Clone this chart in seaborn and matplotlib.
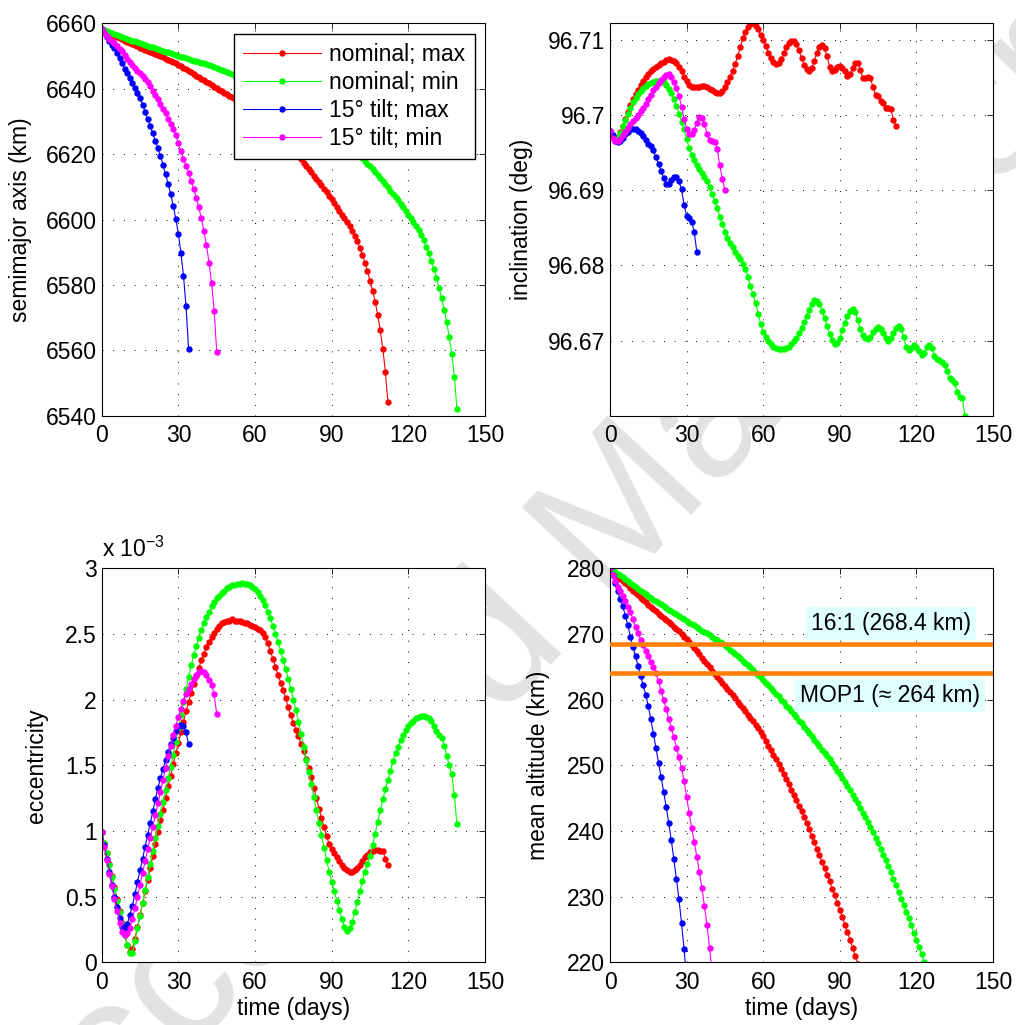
import numpy as np
import pandas as pd
import matplotlib
matplotlib.use("Agg")
import matplotlib.pyplot as plt
from matplotlib.ticker import FormatStrFormatter
import seaborn as sns

sns.set_theme(style="white", rc={
    "axes.edgecolor": "black",
    "axes.linewidth": 0.8,
    "xtick.color": "black",
    "ytick.color": "black",
    "text.color": "black",
    "axes.labelcolor": "black",
})
plt.rcParams["font.family"] = ["Liberation Sans", "DejaVu Sans"]
plt.rcParams["mathtext.fontset"] = "custom"
plt.rcParams["mathtext.rm"] = "Liberation Sans"
plt.rcParams["mathtext.it"] = "Liberation Sans:italic"

FS = 16.5
EARTH_RADIUS_KM = 6378.137

series_labels = ["nominal; max", "nominal; min", "15\u00b0 tilt; max", "15\u00b0 tilt; min"]
series_colors = ["#ff0000", "#00ff00", "#0000ff", "#ff00ff"]

# ---- mean altitude (km), one sample per day ----
alt_nominal_max = [
    280.0, 279.6, 279.2, 278.8, 278.4, 278.1, 277.7, 277.4, 277.0, 276.6,
    276.3, 275.9, 275.5, 275.1, 274.8, 274.4, 274.1, 273.8, 273.5, 273.1,
    272.8, 272.5, 272.1, 271.8, 271.5, 271.1, 270.8, 270.4, 270.0, 269.6,
    269.2, 268.8, 268.3, 267.8, 267.4, 266.9, 266.4, 265.9, 265.4, 264.9,
    264.4, 263.9, 263.5, 263.0, 262.5, 262.1, 261.6, 261.1, 260.7, 260.2,
    259.7, 259.2, 258.7, 258.2, 257.7, 257.2, 256.7, 256.2, 255.6, 255.0,
    254.4, 253.7, 253.0, 252.3, 251.6, 250.9, 250.2, 249.4, 248.7, 247.9,
    247.1, 246.3, 245.5, 244.7, 243.8, 243.0, 242.1, 241.2, 240.3, 239.3,
    238.3, 237.3, 236.3, 235.3, 234.3, 233.3, 232.3, 231.2, 230.2, 229.1,
    228.0, 226.9, 225.7, 224.6, 223.4, 222.2, 221.0, 219.8, 218.4, 216.9,
    215.2, 213.3, 211.1, 208.7, 206.0, 203.2, 200.1, 196.8, 192.7, 188.0,
    182.4, 175.3, 166.0,
]
alt_nominal_min = [
    280.0, 279.7, 279.4, 279.2, 278.9, 278.6, 278.3, 278.0, 277.8, 277.5,
    277.2, 276.9, 276.6, 276.4, 276.1, 275.8, 275.5, 275.2, 275.0, 274.7,
    274.5, 274.2, 274.0, 273.7, 273.5, 273.2, 273.0, 272.7, 272.5, 272.2,
    272.0, 271.7, 271.5, 271.3, 271.0, 270.8, 270.5, 270.3, 270.1, 269.8,
    269.6, 269.3, 269.1, 268.8, 268.6, 268.3, 268.0, 267.6, 267.3, 267.0,
    266.6, 266.3, 265.9, 265.6, 265.2, 264.9, 264.5, 264.1, 263.8, 263.4,
    263.0, 262.6, 262.2, 261.7, 261.3, 260.9, 260.5, 260.0, 259.6, 259.1,
    258.7, 258.2, 257.8, 257.3, 256.8, 256.4, 255.9, 255.4, 254.9, 254.4,
    253.9, 253.4, 252.9, 252.4, 251.9, 251.4, 250.9, 250.4, 249.8, 249.2,
    248.6, 248.0, 247.4, 246.8, 246.2, 245.5, 244.9, 244.2, 243.5, 242.8,
    242.1, 241.4, 240.6, 239.8, 239.0, 238.2, 237.3, 236.4, 235.5, 234.6,
    233.7, 232.7, 231.7, 230.7, 229.7, 228.7, 227.7, 226.7, 225.6, 224.5,
    223.4, 222.3, 221.2, 220.0, 218.7, 217.2, 215.5, 213.6, 211.5, 209.2,
    206.7, 204.0, 201.0, 197.8, 194.3, 190.4, 185.9, 180.6, 173.8, 164.0,
]
alt_tilt_max = [
    280.0, 278.9, 277.7, 276.5, 275.3, 274.2, 272.8, 271.3, 269.6, 268.0,
    266.6, 265.1, 263.6, 262.2, 260.7, 259.0, 257.0, 254.8, 252.6, 250.4,
    248.2, 246.0, 243.7, 241.2, 238.6, 235.7, 232.7, 229.6, 226.0, 222.0,
    217.5, 211.6, 204.7, 195.3, 182.2,
]
alt_tilt_min = [
    280.0, 279.0, 278.1, 277.2, 276.5, 275.8, 275.0, 274.1, 273.3, 272.2,
    271.1, 270.1, 269.1, 268.3, 267.4, 266.6, 265.8, 264.9, 264.0, 262.8,
    261.3, 259.9, 258.6, 257.1, 255.7, 254.3, 252.7, 251.2, 249.6, 247.6,
    245.2, 242.7, 240.4, 238.3, 236.1, 233.7, 231.3, 228.5, 225.6, 222.2,
    218.4, 214.0, 208.7, 202.4, 194.0, 181.4,
]

# ---- inclination (deg) ----
inc_nominal_max = [
    96.6979, 96.6972, 96.6969, 96.6970, 96.6977, 96.6986, 96.6995, 96.7004, 96.7013, 96.7021,
    96.7028, 96.7034, 96.7040, 96.7045, 96.7050, 96.7054, 96.7058, 96.7061, 96.7064, 96.7067,
    96.7069, 96.7071, 96.7073, 96.7074, 96.7073, 96.7072, 96.7069, 96.7064, 96.7058, 96.7051,
    96.7045, 96.7040, 96.7038, 96.7037, 96.7037, 96.7038, 96.7039, 96.7039, 96.7037, 96.7035,
    96.7033, 96.7031, 96.7030, 96.7030, 96.7032, 96.7037, 96.7044, 96.7051, 96.7059, 96.7068,
    96.7078, 96.7090, 96.7102, 96.7111, 96.7117, 96.7121, 96.7122, 96.7119, 96.7114, 96.7107,
    96.7100, 96.7092, 96.7083, 96.7076, 96.7070, 96.7068, 96.7069, 96.7074, 96.7082, 96.7090,
    96.7096, 96.7099, 96.7098, 96.7094, 96.7086, 96.7076, 96.7067, 96.7061, 96.7059, 96.7063,
    96.7072, 96.7083, 96.7091, 96.7093, 96.7089, 96.7078, 96.7064, 96.7058, 96.7060, 96.7064,
    96.7065, 96.7063, 96.7058, 96.7052, 96.7055, 96.7062, 96.7069, 96.7069, 96.7060, 96.7049,
    96.7049, 96.7051, 96.7049, 96.7037, 96.7027, 96.7025, 96.7019, 96.7016, 96.7010, 96.7009,
    96.7008, 96.6993, 96.6985,
]
inc_nominal_min = [
    96.6979, 96.6972, 96.6968, 96.6970, 96.6976, 96.6985, 96.6994, 96.7002, 96.7010, 96.7017,
    96.7023, 96.7028, 96.7032, 96.7036, 96.7039, 96.7041, 96.7043, 96.7044, 96.7045, 96.7045,
    96.7046, 96.7044, 96.7040, 96.7035, 96.7029, 96.7021, 96.7012, 96.7002, 96.6991, 96.6981,
    96.6968, 96.6956, 96.6947, 96.6940, 96.6934, 96.6928, 96.6923, 96.6918, 96.6912, 96.6904,
    96.6895, 96.6886, 96.6876, 96.6865, 96.6855, 96.6845, 96.6837, 96.6830, 96.6824, 96.6818,
    96.6813, 96.6808, 96.6802, 96.6795, 96.6785, 96.6772, 96.6762, 96.6750, 96.6736, 96.6722,
    96.6711, 96.6705, 96.6699, 96.6695, 96.6692, 96.6690, 96.6689, 96.6689, 96.6689, 96.6690,
    96.6692, 96.6695, 96.6699, 96.6704, 96.6710, 96.6717, 96.6725, 96.6733, 96.6741, 96.6749,
    96.6754, 96.6753, 96.6748, 96.6740, 96.6730, 96.6719, 96.6709, 96.6701, 96.6696, 96.6697,
    96.6704, 96.6714, 96.6724, 96.6733, 96.6740, 96.6742, 96.6738, 96.6727, 96.6716, 96.6708,
    96.6703, 96.6702, 96.6705, 96.6711, 96.6716, 96.6718, 96.6716, 96.6710, 96.6703, 96.6700,
    96.6703, 96.6710, 96.6717, 96.6720, 96.6716, 96.6705, 96.6692, 96.6687, 96.6690, 96.6694,
    96.6692, 96.6686, 96.6681, 96.6684, 96.6691, 96.6694, 96.6690, 96.6680, 96.6675, 96.6674,
    96.6672, 96.6668, 96.6660, 96.6650, 96.6647, 96.6643, 96.6631, 96.6625, 96.6623, 96.6600,
]
inc_tilt_max = [
    96.6979, 96.6973, 96.6966, 96.6964, 96.6966, 96.6970, 96.6975, 96.6978, 96.6981, 96.6982,
    96.6981, 96.6979, 96.6976, 96.6972, 96.6967, 96.6962, 96.6959, 96.6953, 96.6944, 96.6935,
    96.6926, 96.6916, 96.6908, 96.6908, 96.6913, 96.6917, 96.6917, 96.6912, 96.6901, 96.6881,
    96.6866, 96.6863, 96.6858, 96.6844, 96.6818,
]
inc_tilt_min = [
    96.6979, 96.6970, 96.6966, 96.6965, 96.6968, 96.6973, 96.6978, 96.6983, 96.6988, 96.6992,
    96.6996, 96.7000, 96.7005, 96.7010, 96.7015, 96.7021, 96.7027, 96.7033, 96.7038, 96.7043,
    96.7047, 96.7050, 96.7053, 96.7054, 96.7050, 96.7044, 96.7036, 96.7026, 96.7011, 96.6995,
    96.6982, 96.6975, 96.6975, 96.6980, 96.6990, 96.6997, 96.6996, 96.6988, 96.6975, 96.6967,
    96.6965, 96.6964, 96.6955, 96.6933, 96.6915, 96.6900,
]

# ---- eccentricity (units of 1e-3) ----
ecc_nominal_max = [
    0.99, 0.91, 0.83, 0.75, 0.66, 0.57, 0.48, 0.39, 0.30, 0.21,
    0.13, 0.08, 0.10, 0.18, 0.27, 0.36, 0.45, 0.54, 0.63, 0.72,
    0.81, 0.90, 0.99, 1.08, 1.16, 1.25, 1.34, 1.42, 1.51, 1.59,
    1.67, 1.75, 1.83, 1.91, 1.98, 2.05, 2.12, 2.18, 2.24, 2.30,
    2.35, 2.40, 2.44, 2.48, 2.51, 2.54, 2.56, 2.58, 2.59, 2.60,
    2.60, 2.61, 2.60, 2.60, 2.60, 2.59, 2.58, 2.58, 2.57, 2.56,
    2.55, 2.54, 2.53, 2.51, 2.48, 2.43, 2.37, 2.31, 2.25, 2.19,
    2.13, 2.07, 2.01, 1.94, 1.88, 1.82, 1.77, 1.72, 1.66, 1.61,
    1.55, 1.48, 1.41, 1.33, 1.25, 1.17, 1.10, 1.03, 0.96, 0.90,
    0.86, 0.83, 0.80, 0.77, 0.74, 0.72, 0.70, 0.69, 0.69, 0.70,
    0.72, 0.74, 0.77, 0.80, 0.82, 0.84, 0.85, 0.855, 0.855, 0.85,
    0.85, 0.79, 0.74,
]
ecc_nominal_min = [
    0.99, 0.91, 0.83, 0.74, 0.65, 0.56, 0.47, 0.38, 0.29, 0.21,
    0.13, 0.07, 0.07, 0.16, 0.26, 0.35, 0.45, 0.55, 0.65, 0.75,
    0.85, 0.95, 1.04, 1.13, 1.22, 1.31, 1.40, 1.49, 1.58, 1.68,
    1.78, 1.88, 1.98, 2.08, 2.17, 2.26, 2.34, 2.41, 2.47, 2.53,
    2.58, 2.63, 2.67, 2.71, 2.74, 2.77, 2.79, 2.81, 2.83, 2.85,
    2.86, 2.87, 2.875, 2.88, 2.88, 2.885, 2.88, 2.88, 2.87, 2.86,
    2.84, 2.82, 2.79, 2.76, 2.72, 2.67, 2.62, 2.56, 2.50, 2.44,
    2.37, 2.30, 2.23, 2.16, 2.08, 2.00, 1.92, 1.83, 1.74, 1.64,
    1.54, 1.45, 1.36, 1.26, 1.16, 1.06, 0.97, 0.87, 0.78, 0.69,
    0.61, 0.54, 0.47, 0.40, 0.33, 0.27, 0.24, 0.26, 0.31, 0.38,
    0.46, 0.54, 0.62, 0.69, 0.75, 0.81, 0.89, 0.98, 1.07, 1.16,
    1.24, 1.32, 1.39, 1.46, 1.53, 1.59, 1.64, 1.69, 1.73, 1.77,
    1.80, 1.82, 1.84, 1.86, 1.87, 1.875, 1.875, 1.87, 1.86, 1.84,
    1.80, 1.76, 1.73, 1.71, 1.65, 1.57, 1.50, 1.43, 1.27, 1.05,
]
ecc_tilt_max = [
    0.99, 0.89, 0.79, 0.69, 0.59, 0.50, 0.42, 0.34, 0.27, 0.25,
    0.29, 0.36, 0.43, 0.52, 0.61, 0.70, 0.79, 0.88, 0.97, 1.06,
    1.15, 1.24, 1.33, 1.40, 1.47, 1.54, 1.60, 1.66, 1.71, 1.76,
    1.80, 1.81, 1.80, 1.75, 1.66,
]
ecc_tilt_min = [
    0.99, 0.88, 0.78, 0.67, 0.58, 0.48, 0.39, 0.30, 0.23, 0.21,
    0.22, 0.26, 0.33, 0.41, 0.50, 0.59, 0.68, 0.77, 0.86, 0.95,
    1.03, 1.12, 1.21, 1.30, 1.39, 1.48, 1.57, 1.65, 1.73, 1.80,
    1.87, 1.93, 1.99, 2.04, 2.08, 2.12, 2.16, 2.19, 2.21, 2.22,
    2.21, 2.19, 2.15, 2.11, 2.04, 1.89,
]

x_ticks = [0, 30, 60, 90, 120, 150]
sma_ticks = [6540, 6560, 6580, 6600, 6620, 6640, 6660]
inc_ticks = [96.67, 96.68, 96.69, 96.70, 96.71]
ecc_ticks = [0, 0.5, 1, 1.5, 2, 2.5, 3]
alt_ticks = [220, 230, 240, 250, 260, 270, 280]

resonance_levels = [268.4, 264.0]
resonance_texts = ["16:1 (268.4 km)", "MOP1 (\u2248 264 km)"]

altitude = [alt_nominal_max, alt_nominal_min, alt_tilt_max, alt_tilt_min]
semimajor = [list(np.asarray(a) + EARTH_RADIUS_KM) for a in altitude]
inclination = [inc_nominal_max, inc_nominal_min, inc_tilt_max, inc_tilt_min]
eccentricity = [ecc_nominal_max, ecc_nominal_min, ecc_tilt_max, ecc_tilt_min]

fig = plt.figure(figsize=(10.16, 10.25), dpi=100)
fig.patch.set_facecolor("white")

# background stamp, hidden behind the opaque plot areas
fig.text(0.590, 0.470, "Accepted Manuscript", rotation=47, fontsize=135,
         color="#e2e2e2", ha="center", va="center", zorder=-5)

ax_sma = fig.add_axes([0.1001, 0.5944, 0.3773, 0.3828])
ax_inc = fig.add_axes([0.6004, 0.5944, 0.3770, 0.3828])
ax_ecc = fig.add_axes([0.1001, 0.0612, 0.3773, 0.3844])
ax_alt = fig.add_axes([0.6004, 0.0612, 0.3770, 0.3844])


def draw_series(ax, values_list):
    handles = []
    for label, color, values in zip(series_labels, series_colors, values_list):
        df = pd.DataFrame({"day": np.arange(len(values)), "value": values})
        sns.lineplot(data=df, x="day", y="value", color=color, marker="o",
                     markersize=4.6, markeredgewidth=0, linewidth=0.8,
                     estimator=None, sort=False, ax=ax, legend=False)
        line = ax.lines[-1]
        line.set_label(label)
        handles.append(line)
    return handles


def style_axes(ax, yticks, ylim, ylabel, label_x, show_xlabel):
    ax.set_facecolor("white")
    ax.set_xlim(0, 150)
    ax.set_ylim(*ylim)
    ax.set_xticks(x_ticks)
    ax.set_yticks(yticks)
    ax.yaxis.set_major_formatter(FormatStrFormatter("%g"))
    ax.grid(True, color="black", linestyle=(0, (1, 10)), linewidth=0.7)
    ax.set_axisbelow(True)
    ax.tick_params(direction="in", length=4, width=0.6, top=True, right=True,
                   labelsize=FS)
    ax.tick_params(axis="x", pad=6)
    ax.tick_params(axis="y", pad=3.5)
    for s in ax.spines.values():
        s.set_color("black")
        s.set_linewidth(0.8)
    ax.set_ylabel(ylabel, fontsize=FS)
    ax.yaxis.set_label_coords(label_x, 0.5)
    if show_xlabel:
        ax.set_xlabel("time (days)", fontsize=FS)
        ax.xaxis.set_label_coords(0.5, -0.088)
    else:
        ax.set_xlabel("")


handles = draw_series(ax_sma, semimajor)
style_axes(ax_sma, sma_ticks, (6540, 6660), "semimajor axis (km)", -0.182, False)
leg = ax_sma.legend(handles, series_labels, loc="upper right", fontsize=FS,
                    frameon=True, fancybox=False, edgecolor="black", framealpha=1,
                    borderaxespad=0.45, handlelength=3.4, handletextpad=0.35,
                    labelspacing=0.22, borderpad=0.4)
leg.get_frame().set_linewidth(1.0)

draw_series(ax_inc, inclination)
inc_all = np.concatenate([np.asarray(v) for v in inclination])
style_axes(ax_inc, inc_ticks, (inc_all.min(), inc_all.max()), "inclination (deg)", -0.200, False)

draw_series(ax_ecc, eccentricity)
style_axes(ax_ecc, ecc_ticks, (0, 3), "eccentricity", -0.139, True)
ax_ecc.text(0.0, 1.029, r"x 10$^{-3}$", transform=ax_ecc.transAxes,
            ha="left", va="baseline", fontsize=FS)

draw_series(ax_alt, altitude)
style_axes(ax_alt, alt_ticks, (220, 280), "mean altitude (km)", -0.157, True)
for level in resonance_levels:
    ax_alt.axhline(level, color="#ff8000", linewidth=3.3, zorder=3)
ax_alt.text(109.9, 271.65, resonance_texts[0], ha="center", va="center", fontsize=FS,
            zorder=5, bbox=dict(boxstyle="square,pad=0.22", facecolor="#e0ffff",
                                edgecolor="none"))
ax_alt.text(109.7, 260.6, resonance_texts[1], ha="center", va="center", fontsize=FS,
            zorder=5, bbox=dict(boxstyle="square,pad=0.22", facecolor="#e0ffff",
                                edgecolor="none"))

fig.savefig("out.png", dpi=100, facecolor="white")
